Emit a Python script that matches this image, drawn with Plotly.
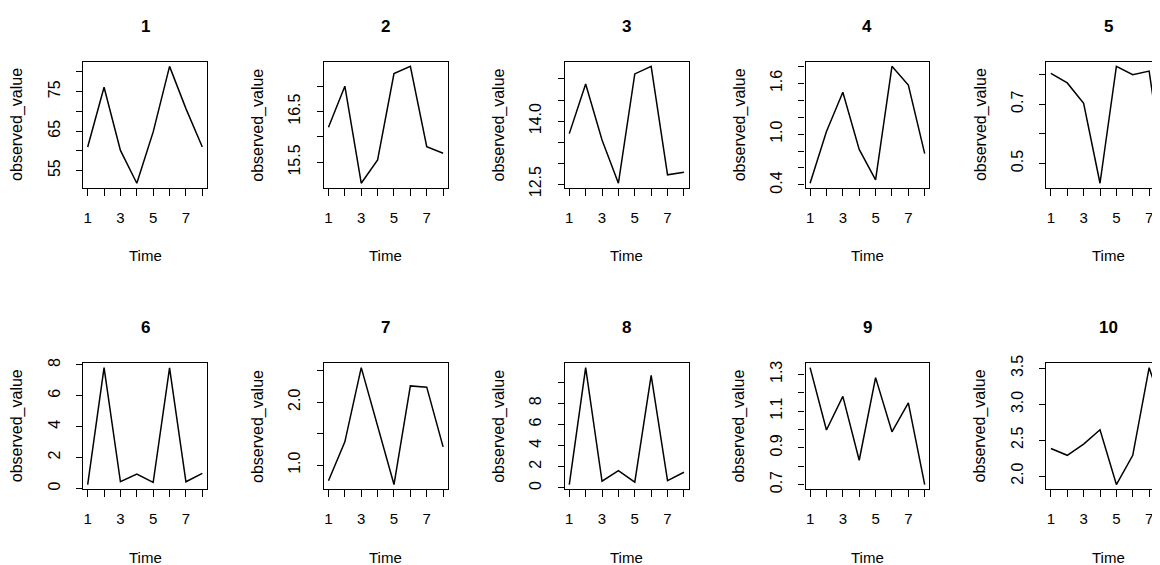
import plotly.graph_objects as go

# ---- data ----
time = [1, 2, 3, 4, 5, 6, 7, 8]
panel_titles = ["1", "2", "3", "4", "5", "6", "7", "8", "9", "10"]

obs_1 = [60.96, 76.1, 60.1, 51.8, 64.8, 81.4, 70.7, 60.96]
obs_2 = [16.19, 17.0, 15.09, 15.55, 17.25, 17.39, 15.81, 15.68]
obs_3 = [13.7, 14.88, 13.55, 12.52, 15.12, 15.3, 12.72, 12.78]
obs_4 = [0.42, 1.03, 1.495, 0.82, 0.46, 1.80, 1.58, 0.77]
obs_5 = [0.804, 0.772, 0.703, 0.433, 0.828, 0.80, 0.812, 0.435]
obs_6 = [0.25, 7.82, 0.43, 0.93, 0.39, 7.8, 0.43, 0.97]
obs_7 = [0.75, 1.37, 2.55, 1.6, 0.69, 2.26, 2.24, 1.29]
obs_8 = [0.32, 11.36, 0.63, 1.64, 0.54, 10.63, 0.69, 1.48]
obs_9 = [1.336, 0.997, 1.18, 0.832, 1.282, 0.987, 1.144, 0.70]
obs_10 = [2.385, 2.29, 2.445, 2.646, 1.883, 2.29, 3.51, 2.84]
series = [obs_1, obs_2, obs_3, obs_4, obs_5, obs_6, obs_7, obs_8, obs_9, obs_10]

x_tick_vals = [1, 2, 3, 4, 5, 6, 7, 8]
x_tick_text = ["1", "", "3", "", "5", "", "7", ""]

y_ticks_1 = [55, 60, 65, 70, 75, 80]
y_labels_1 = ["55", "", "65", "", "75", ""]
y_ticks_2 = [15.5, 16.0, 16.5, 17.0]
y_labels_2 = ["15.5", "", "16.5", ""]
y_ticks_3 = [12.5, 13.0, 13.5, 14.0, 14.5, 15.0]
y_labels_3 = ["12.5", "", "", "14.0", "", ""]
y_ticks_4 = [0.4, 0.6, 0.8, 1.0, 1.2, 1.4, 1.6, 1.8]
y_labels_4 = ["0.4", "", "", "1.0", "", "", "1.6", ""]
y_ticks_5 = [0.5, 0.6, 0.7, 0.8]
y_labels_5 = ["0.5", "", "0.7", ""]
y_ticks_6 = [0, 2, 4, 6, 8]
y_labels_6 = ["0", "2", "4", "6", "8"]
y_ticks_7 = [1.0, 1.5, 2.0, 2.5]
y_labels_7 = ["1.0", "", "2.0", ""]
y_ticks_8 = [0, 2, 4, 6, 8, 10]
y_labels_8 = ["0", "2", "4", "6", "8", ""]
y_ticks_9 = [0.7, 0.8, 0.9, 1.0, 1.1, 1.2, 1.3]
y_labels_9 = ["0.7", "", "0.9", "", "1.1", "", "1.3"]
y_ticks_10 = [2.0, 2.5, 3.0, 3.5]
y_labels_10 = ["2.0", "2.5", "3.0", "3.5"]
y_ticks = [y_ticks_1, y_ticks_2, y_ticks_3, y_ticks_4, y_ticks_5,
           y_ticks_6, y_ticks_7, y_ticks_8, y_ticks_9, y_ticks_10]
y_labels = [y_labels_1, y_labels_2, y_labels_3, y_labels_4, y_labels_5,
            y_labels_6, y_labels_7, y_labels_8, y_labels_9, y_labels_10]

# ---- layout geometry (page pixels) ----
W, H = 1160, 565          # figure size
VIEW_W = 1160             # visible window width
PAGE_OFF = 8              # default body margin of the html page
BOX_LEFT0 = 83.1
COL_STEP = 240.8
BOX_W = 123.8
ROW_TOP = [61.7, 363.0]
BOX_H = 126.2
FONT = "Liberation Sans, Arial, sans-serif"
INK = "#000000"


def fx(p):
    return (p - PAGE_OFF) / W


def fy(p):
    return 1 - (p - PAGE_OFF) / H


fig = go.Figure()
annotations = []
layout_axes = {}

for i, ys in enumerate(series):
    row, col = divmod(i, 5)
    n = i + 1
    left = BOX_LEFT0 + col * COL_STEP
    right = left + BOX_W
    top = ROW_TOP[row]
    bottom = top + BOX_H

    # R-style 4% padding
    x0, x1 = min(time), max(time)
    xpad = 0.04 * (x1 - x0)
    xr = [x0 - xpad, x1 + xpad]
    px_per_unit = BOX_W / (xr[1] - xr[0])
    clipped = right > VIEW_W
    if clipped:
        xr = [xr[0], xr[0] + (VIEW_W - left) / px_per_unit]
        right = VIEW_W
    y0, y1 = min(ys), max(ys)
    ypad = 0.04 * (y1 - y0)
    yr = [y0 - ypad, y1 + ypad]

    xa = "x" if n == 1 else f"x{n}"
    ya = "y" if n == 1 else f"y{n}"
    fig.add_trace(go.Scatter(x=time, y=ys, mode="lines", xaxis=xa, yaxis=ya,
                             line=dict(color=INK, width=1.5), showlegend=False,
                             hoverinfo="skip"))

    xkey = "xaxis" if n == 1 else f"xaxis{n}"
    ykey = "yaxis" if n == 1 else f"yaxis{n}"
    layout_axes[xkey] = dict(
        domain=[fx(left), fx(right)], anchor=ya, range=xr, automargin=False,
        tickmode="array", tickvals=x_tick_vals, ticktext=x_tick_text,
        ticks="outside", ticklen=7, tickwidth=1.2, tickcolor=INK,
        showline=True, linecolor=INK, linewidth=1.2, mirror=True,
        showgrid=False, zeroline=False, tickangle=0,
        ticklabelstandoff=9,
        tickfont=dict(family=FONT, size=15, color=INK),
    )
    layout_axes[ykey] = dict(
        domain=[fy(bottom), fy(top)], anchor=xa, range=yr, automargin=False,
        tickmode="array", tickvals=y_ticks[i], ticktext=y_labels[i],
        ticks="outside", ticklen=6, tickwidth=1.2, tickcolor=INK,
        showline=True, linecolor=INK, linewidth=1.2, mirror=not clipped,
        showgrid=False, zeroline=False, tickangle=-90,
        ticklabelstandoff=10,
        tickfont=dict(family=FONT, size=16, color=INK),
    )

    cx = left + BOX_W / 2
    annotations.append(dict(text=f"<b>{panel_titles[i]}</b>", x=fx(cx), y=fy(top - 35.5),
                            xref="paper", yref="paper", showarrow=False,
                            xanchor="center", yanchor="middle",
                            font=dict(family=FONT, size=17, color=INK)))
    annotations.append(dict(text="Time", x=fx(cx), y=fy(bottom + 68),
                            xref="paper", yref="paper", showarrow=False,
                            xanchor="center", yanchor="middle",
                            font=dict(family=FONT, size=15, color=INK)))
    annotations.append(dict(text="observed_value", x=fx(left - 66), y=fy((top + bottom) / 2),
                            xref="paper", yref="paper", showarrow=False, textangle=-90,
                            xanchor="center", yanchor="middle",
                            font=dict(family=FONT, size=16, color=INK)))

fig.update_layout(
    width=W, height=H, margin=dict(l=0, r=0, t=0, b=0, pad=0),
    paper_bgcolor="white", plot_bgcolor="white",
    annotations=annotations, **layout_axes,
)

fig.write_html("out.html")
